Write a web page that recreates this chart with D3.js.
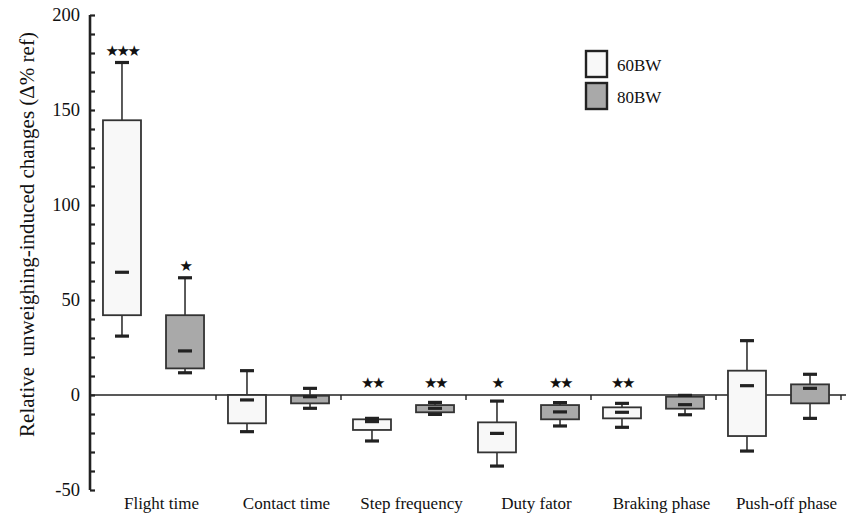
<!DOCTYPE html>
<html>
<head>
<meta charset="utf-8">
<script src="https://cdn.jsdelivr.net/npm/d3@7/dist/d3.min.js"></script>
<style>
  html, body { margin: 0; padding: 0; background: #fff; }
  svg { display: block; }
  text { font-family: "Liberation Serif", "Times New Roman", serif; fill: #111; }
</style>
</head>
<body>
<svg id="chart" width="846" height="515"></svg>
<script>
// Outcome measures along the x axis
const categories = ["Flight time", "Contact time", "Step frequency", "Duty fator", "Braking phase", "Push-off phase"];
const seriesNames = ["60BW", "80BW"];

// Box-plot summaries per condition: [lower whisker, Q1, median, Q3, upper whisker]
const bw60 = [
  [31, 42, 64.6, 144.6, 175],
  [-19.3, -14.9, -2.6, 0, 12.8],
  [-24.2, -18.4, -14, -12.8, -12.3],
  [-37.4, -30.2, -20.2, -14.4, -3.2],
  [-17, -12.3, -9.1, -6.5, -4.4],
  [-29.5, -21.6, 4.9, 12.8, 28.6]
];
const bw80 = [
  [11.7, 14, 23.2, 42, 61.7],
  [-7, -4.4, -0.9, -0.4, 3.5],
  [-10.2, -9.1, -7, -5.3, -3.9],
  [-16.3, -12.8, -8.9, -5.3, -4],
  [-10.4, -7.2, -5.1, -0.9, -0.2],
  [-12.3, -4.4, 3.5, 5.6, 10.9]
];

// Significance markers (number of stars) per condition
const stars60 = [3, 0, 2, 1, 2, 0];
const stars80 = [1, 0, 2, 2, 0, 0];

// Y axis tick labels
const yTicks = [-50, 0, 50, 100, 150, 200];

const fills = { "60BW": "#f8f8f8", "80BW": "#a9a9a9" };
const ink = "#222";

const svg = d3.select("#chart");

const x0 = d3.scaleBand().domain(categories).range([91, 841]);
const x1 = d3.scaleBand().domain(seriesNames).range([0, x0.bandwidth()])
  .paddingInner(0.397).paddingOuter(0.19);
const y = d3.scaleLinear().domain([-50, 200]).range([490, 15]);

// Reference line at zero with small separators between groups
svg.append("line")
  .attr("x1", 91).attr("x2", 846)
  .attr("y1", y(0)).attr("y2", y(0))
  .attr("stroke", ink).attr("stroke-width", 1.6);

svg.append("g").selectAll("line")
  .data(categories)
  .join("line")
  .attr("x1", d => x0(d) + x0.bandwidth())
  .attr("x2", d => x0(d) + x0.bandwidth())
  .attr("y1", y(0)).attr("y2", y(0) + 5)
  .attr("stroke", ink).attr("stroke-width", 1.4);

// Y axis: ticks every 10 drawn inward, labels every 50
const yAxis = d3.axisRight(y).tickValues(d3.range(-50, 201, 10)).tickSize(5).tickFormat("");
const gy = svg.append("g").attr("transform", "translate(90,0)").call(yAxis);
gy.select(".domain").attr("stroke", ink).attr("stroke-width", 2.6).attr("d", `M0,${y(200)}V${y(-50)}`);
gy.selectAll(".tick line").attr("stroke", ink).attr("stroke-width", 2.2);

svg.append("g").selectAll("text")
  .data(yTicks)
  .join("text")
  .attr("x", 80).attr("y", d => y(d))
  .attr("dy", "0.35em")
  .attr("text-anchor", "end")
  .attr("font-size", 18.5)
  .text(d => d);

// Y axis title
svg.append("text")
  .attr("transform", `translate(34,${(y(200) + y(-50)) / 2 - 18}) rotate(-90)`)
  .attr("text-anchor", "middle")
  .attr("font-size", 21)
  .style("white-space", "pre")
  .text("Relative  unweighing-induced changes (\u0394% ref)");

// Category labels
svg.append("g").selectAll("text")
  .data(categories)
  .join("text")
  .attr("x", d => x0(d) + x0.bandwidth() / 2 + 8)
  .attr("y", 509)
  .attr("text-anchor", "middle")
  .attr("font-size", 17)
  .text(d => d);

// Box plots
const rows = [];
categories.forEach((c, i) => {
  rows.push({ cat: c, s: "60BW", v: bw60[i], stars: stars60[i] });
  rows.push({ cat: c, s: "80BW", v: bw80[i], stars: stars80[i] });
});

const bw = x1.bandwidth();
const capW = 14;
const g = svg.append("g").selectAll("g")
  .data(rows)
  .join("g")
  .attr("transform", d => `translate(${x0(d.cat) + x1(d.s)},0)`);

// whiskers
g.append("line")
  .attr("x1", bw / 2).attr("x2", bw / 2)
  .attr("y1", d => y(d.v[4])).attr("y2", d => y(d.v[0]))
  .attr("stroke", "#333").attr("stroke-width", 1.6);

// boxes
g.append("rect")
  .attr("x", 0).attr("width", bw)
  .attr("y", d => y(d.v[3]))
  .attr("height", d => Math.max(1, y(d.v[1]) - y(d.v[3])))
  .attr("fill", d => fills[d.s])
  .attr("stroke", "#333").attr("stroke-width", 1.8);

// whisker caps and medians
[0, 4, 2].forEach(k => {
  g.append("line")
    .attr("x1", bw / 2 - capW / 2).attr("x2", bw / 2 + capW / 2)
    .attr("y1", d => y(d.v[k])).attr("y2", d => y(d.v[k]))
    .attr("stroke", ink).attr("stroke-width", 3.2);
});

// significance stars
g.filter(d => d.stars > 0).append("text")
  .attr("x", bw / 2)
  .attr("y", d => y(Math.max(d.v[4], 0)) - 7)
  .attr("text-anchor", "middle")
  .attr("font-size", 15)
  .style("font-family", "'DejaVu Sans', sans-serif")
  .style("letter-spacing", "-2.5px")
  .text(d => "\u2605".repeat(d.stars));

// Legend
const leg = svg.append("g").selectAll("g")
  .data(seriesNames)
  .join("g")
  .attr("transform", (d, i) => `translate(586,${51 + i * 32})`);
leg.append("rect")
  .attr("width", 21).attr("height", 26)
  .attr("fill", d => fills[d])
  .attr("stroke", ink).attr("stroke-width", 2.4);
leg.append("text")
  .attr("x", 31).attr("y", 20)
  .attr("font-size", 17)
  .text(d => d);
</script>
</body>
</html>
